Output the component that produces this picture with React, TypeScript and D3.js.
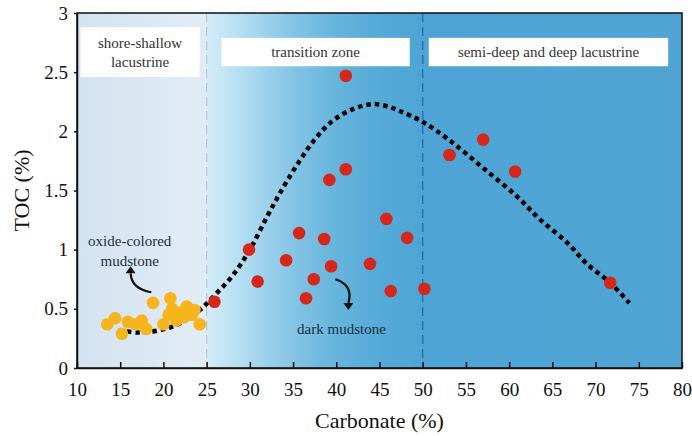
import React, { useEffect, useRef } from 'react';
import * as d3 from 'd3';

// oxide-colored mudstone samples (carbonate %, TOC %)
const yellowX = [13.5, 14.4, 15.2, 15.9, 16.8, 17.5, 18.0, 18.8, 20.0, 20.6, 20.8, 21.0, 21.5, 22.0, 22.4, 22.7, 23.3, 23.6, 24.2];
const yellowY = [0.37, 0.42, 0.29, 0.39, 0.37, 0.40, 0.33, 0.55, 0.37, 0.45, 0.59, 0.50, 0.40, 0.47, 0.43, 0.52, 0.45, 0.49, 0.37];

// dark mudstone samples
const redX = [25.9, 29.9, 30.9, 34.2, 35.7, 36.5, 37.4, 38.6, 39.2, 39.4, 41.1, 41.1, 43.9, 45.8, 46.3, 48.2, 50.2, 53.1, 57.0, 60.7, 71.7];
const redY = [0.56, 1.0, 0.73, 0.91, 1.14, 0.59, 0.75, 1.09, 1.59, 0.86, 1.68, 2.47, 0.88, 1.26, 0.65, 1.10, 0.67, 1.80, 1.93, 1.66, 0.72];

// fitted trend (dotted)
const trendX = [14.8, 17, 19.6, 22, 24.2, 26, 28, 30, 32, 33.5, 35.4, 37.5, 39.6, 42, 44.3, 46, 47.4, 50, 53, 57, 60.9, 63.5, 66.7, 69, 71.7, 73.9];
const trendY = [0.32, 0.30, 0.32, 0.38, 0.49, 0.62, 0.78, 1.0, 1.28, 1.48, 1.71, 1.93, 2.09, 2.19, 2.23, 2.21, 2.17, 2.08, 1.93, 1.69, 1.45, 1.26, 1.06, 0.88, 0.72, 0.55];

const xTicks = [10, 15, 20, 25, 30, 35, 40, 45, 50, 55, 60, 65, 70, 75, 80];
const yTicks = [0, 0.5, 1, 1.5, 2, 2.5, 3];
const yTickLabels = ['0', '0.5', '1', '1.5', '2', '2.5', '3'];

const zoneBounds = [25, 50];

function App() {
  const ref = useRef<SVGSVGElement>(null);

  useEffect(() => {
    const width = 692, height = 436;
    const margin = { top: 13, right: 10, bottom: 68, left: 77 };
    const font = 'Liberation Serif, DejaVu Serif, Times New Roman, serif';

    const svg = d3.select(ref.current);
    svg.selectAll('*').remove();

    const x = d3.scaleLinear().domain([10, 80]).range([margin.left, width - margin.right]);
    const y = d3.scaleLinear().domain([0, 3]).range([height - margin.bottom, margin.top]);

    // background gradient
    const defs = svg.append('defs');
    const grad = defs.append('linearGradient')
      .attr('id', 'bg')
      .attr('gradientUnits', 'userSpaceOnUse')
      .attr('x1', x(10)).attr('x2', x(80)).attr('y1', 0).attr('y2', 0);
    const off = (v: number) => (v - 10) / 70;
    const stops: [number, string][] = [
      [10, '#d3e3f0'], [24.9, '#e2ecf5'], [25.05, '#d4ecf8'], [30, '#abd9ef'],
      [35, '#84c4e5'], [40, '#66b4dc'], [45, '#55aad7'], [50, '#4ea5d5'], [80, '#4fa4d3'],
    ];
    stops.forEach(([v, c]) => grad.append('stop').attr('offset', off(v)).attr('stop-color', c));

    svg.append('rect')
      .attr('x', x(10)).attr('y', y(3))
      .attr('width', x(80) - x(10)).attr('height', y(0) - y(3))
      .attr('fill', 'url(#bg)');

    // zone dividers
    svg.append('line')
      .attr('x1', x(zoneBounds[0])).attr('x2', x(zoneBounds[0]))
      .attr('y1', y(3)).attr('y2', y(0))
      .attr('stroke', '#b3c9dc').attr('stroke-width', 1.2).attr('stroke-dasharray', '9 5');
    svg.append('line')
      .attr('x1', x(zoneBounds[1])).attr('x2', x(zoneBounds[1]))
      .attr('y1', y(3)).attr('y2', y(0))
      .attr('stroke', '#2e72b4').attr('stroke-width', 1.5).attr('stroke-dasharray', '9 5');

    // zone label boxes
    const boxes = [
      { x0: 10.4, x1: 24.2, y0: 2.88, y1: 2.46, lines: ['shore-shallow', 'lacustrine'] },
      { x0: 26.7, x1: 48.5, y0: 2.79, y1: 2.55, lines: ['transition zone'] },
      { x0: 50.7, x1: 78.4, y0: 2.79, y1: 2.55, lines: ['semi-deep and deep lacustrine'] },
    ];
    boxes.forEach(b => {
      svg.append('rect')
        .attr('x', x(b.x0)).attr('y', y(b.y0))
        .attr('width', x(b.x1) - x(b.x0)).attr('height', y(b.y1) - y(b.y0))
        .attr('fill', '#fff');
      const cx = (x(b.x0) + x(b.x1)) / 2;
      const cy = (y(b.y0) + y(b.y1)) / 2;
      const lh = 19;
      b.lines.forEach((t, i) => {
        svg.append('text')
          .attr('x', cx)
          .attr('y', cy + (i - (b.lines.length - 1) / 2) * lh)
          .attr('dy', '0.35em')
          .attr('text-anchor', 'middle')
          .attr('font-family', font).attr('font-size', 15).attr('fill', '#333')
          .text(t);
      });
    });

    // dotted trend
    const line = d3.line<number>()
      .x((d, i) => x(trendX[i]))
      .y((d, i) => y(trendY[i]))
      .curve(d3.curveCatmullRom);
    svg.append('path')
      .attr('d', line(trendY))
      .attr('fill', 'none')
      .attr('stroke', '#000')
      .attr('stroke-width', 4.5)
      .attr('stroke-dasharray', '4.5 4');

    // points
    svg.append('g').selectAll('circle')
      .data(yellowX)
      .enter().append('circle')
      .attr('cx', d => x(d))
      .attr('cy', (d, i) => y(yellowY[i]))
      .attr('r', 6.3)
      .attr('fill', '#f7b51d');
    svg.append('g').selectAll('circle')
      .data(redX)
      .enter().append('circle')
      .attr('cx', d => x(d))
      .attr('cy', (d, i) => y(redY[i]))
      .attr('r', 6.3)
      .attr('fill', '#d5271c');

    // annotations
    const ann = svg.append('g').attr('font-family', font).attr('font-size', 15).attr('fill', '#1c2f3c');
    ann.append('text').attr('x', x(16.1)).attr('y', y(1.03)).attr('text-anchor', 'middle').text('oxide-colored');
    ann.append('text').attr('x', x(16.1)).attr('y', y(0.86)).attr('text-anchor', 'middle').text('mudstone');
    ann.append('text').attr('x', x(40.6)).attr('y', y(0.29)).attr('text-anchor', 'middle').text('dark mudstone');

    const arrow = (p: [number, number][], headDir: number) => {
      const pts = p.map(([a, b]) => [x(a), y(b)]);
      svg.append('path')
        .attr('d', `M${pts[0][0]},${pts[0][1]} Q${pts[1][0]},${pts[1][1]} ${pts[2][0]},${pts[2][1]}`)
        .attr('fill', 'none').attr('stroke', '#111').attr('stroke-width', 2.2);
      const [ex, ey] = pts[2];
      const s = 5;
      svg.append('path')
        .attr('d', `M${ex - s},${ey} L${ex + s},${ey} L${ex},${ey + headDir * 7} Z`)
        .attr('fill', '#111');
    };
    arrow([[18.6, 0.64], [16.3, 0.67], [16.2, 0.80]], -1);
    arrow([[39.9, 0.75], [42.0, 0.70], [41.4, 0.55]], 1);

    // frame
    svg.append('rect')
      .attr('x', x(10)).attr('y', y(3))
      .attr('width', x(80) - x(10)).attr('height', y(0) - y(3))
      .attr('fill', 'none').attr('stroke', '#111').attr('stroke-width', 1.5);

    // axes
    const xAxis = svg.append('g')
      .attr('transform', `translate(0,${y(0)})`)
      .call(d3.axisBottom(x).tickValues(xTicks).tickSizeInner(-6).tickSizeOuter(0).tickPadding(15).tickFormat(d3.format('d')));
    xAxis.attr('font-family', font).attr('font-size', 19);
    xAxis.select('.domain').attr('stroke', '#111').attr('stroke-width', 1.5);
    xAxis.selectAll('line').attr('stroke', '#111').attr('stroke-width', 1.5);
    xAxis.selectAll('text').attr('fill', '#111');

    const yAxis = svg.append('g')
      .attr('transform', `translate(${x(10)},0)`)
      .call(d3.axisLeft(y).tickValues(yTicks).tickSizeInner(3).tickSizeOuter(0).tickPadding(6)
        .tickFormat((d, i) => yTickLabels[i]));
    yAxis.attr('font-family', font).attr('font-size', 19);
    yAxis.select('.domain').attr('stroke', '#111').attr('stroke-width', 1.5);
    yAxis.selectAll('line').attr('stroke', '#111').attr('stroke-width', 1.5);
    yAxis.selectAll('text').attr('fill', '#111');

    svg.append('text')
      .attr('x', (x(10) + x(80)) / 2).attr('y', 428)
      .attr('text-anchor', 'middle')
      .attr('font-family', font).attr('font-size', 22).attr('fill', '#111')
      .text('Carbonate (%)');
    svg.append('text')
      .attr('transform', `translate(29,${(y(0) + y(3)) / 2}) rotate(-90)`)
      .attr('text-anchor', 'middle')
      .attr('font-family', font).attr('font-size', 22).attr('fill', '#111')
      .text('TOC (%)');
  }, []);

  return (
    <div style={{ position: 'absolute', left: 0, top: 0 }}>
      <svg ref={ref} width={692} height={436} style={{ display: 'block', background: '#fff' }} />
    </div>
  );
}

export default App;
